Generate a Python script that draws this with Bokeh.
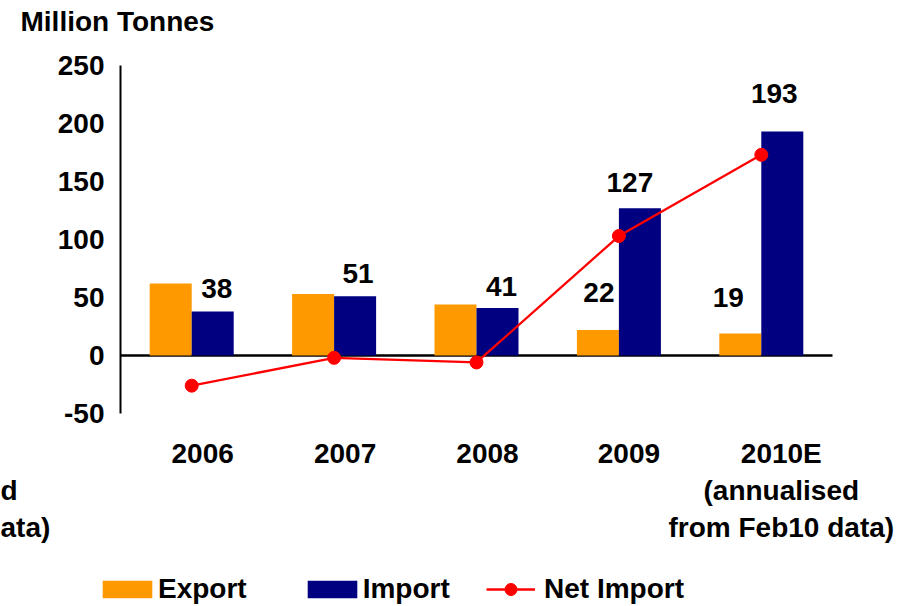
import numpy as np
from bokeh.plotting import figure
from bokeh.models import (Range1d, FixedTicker, Legend, LegendItem,
                          ColumnDataSource, Label, LinearAxis)
from bokeh.embed import file_html
from bokeh.resources import INLINE

# ---- data ----
years = ["2006", "2007", "2008", "2009", "2010E\n(annualised\nfrom Feb10 data)"]
export = [62, 53, 44, 22, 19]
imports = [38, 51, 41, 127, 193]
net_import = [-26, -2, -6, 103, 173]
import_labels = ["38", "51", "41", "127", "193"]
export_labels = ["", "", "", "22", "19"]
y_ticks = [-50, 0, 50, 100, 150, 200, 250]
y_tick_labels = ["-50", "0", "50", "100", "150", "200", "250"]
y_min, y_max = -50, 250

# ---- styles / layout ----
FONT = "Liberation Sans"
FS = "28px"
ORANGE = "#FF9900"
NAVY = "#000080"
RED = "#FF0000"
W, H = 917, 606
PX_X = 142.4          # px per category
PX_Y = 1.16           # px per unit
X0_PX, Y0_PX = 120, 355   # screen position of category start / zero
BAR_OFF = 0.1475
BAR_W = 0.295
imp_dx = [4, 3, 4, -10, -8]
imp_dy = [-23, -23, -21, -26, -38]
exp_dx = [0, 0, 0, 1, -12]
exp_dy = [0, 0, 0, -37, -36]
lab_shift = [11, 11, 11, 10, 20]   # px shift of category labels

n = len(years)
centers = np.arange(n) + 0.5

src = ColumnDataSource(dict(xc=centers, xe=centers - BAR_OFF, xi=centers + BAR_OFF,
                            export=export, imp=imports, net=net_import,
                            ilab=import_labels, elab=export_labels,
                            idx=imp_dx, idy=imp_dy, edx=exp_dx, edy=exp_dy))

x_range = Range1d(-X0_PX / PX_X, (W - X0_PX) / PX_X)
y_range = Range1d(-(H - Y0_PX) / PX_Y, Y0_PX / PX_Y)

p = figure(width=W, height=H, x_range=x_range, y_range=y_range,
           output_backend="svg", toolbar_location=None,
           x_axis_location=None, y_axis_location=None,
           min_border=0, min_border_left=0, min_border_right=0,
           min_border_top=0, min_border_bottom=0)
p.outline_line_color = None
p.grid.visible = False

r_exp = p.vbar(x="xe", top="export", bottom=0, width=BAR_W,
               fill_color=ORANGE, line_color=None, source=src)
r_imp = p.vbar(x="xi", top="imp", bottom=0, width=BAR_W,
               fill_color=NAVY, line_color=None, source=src)

txt = dict(text_align="center", text_baseline="alphabetic",
           text_font={"value": FONT}, text_font_size={"value": FS},
           text_font_style="bold", text_color="black", source=src)
p.text(x="xi", y="imp", text="ilab", x_offset="idx", y_offset="idy", **txt)
p.text(x="xe", y="export", text="elab", x_offset="edx", y_offset="edy", **txt)

r_line = p.line(x="xc", y="net", line_color=RED, line_width=2.3, source=src)
r_pts = p.scatter(x="xc", y="net", size=13, fill_color=RED, line_color=RED,
                  source=src)

# y axis
yax = LinearAxis(fixed_location=0, bounds=(y_min, y_max),
                 ticker=FixedTicker(ticks=y_ticks),
                 major_label_overrides={t: s for t, s in zip(y_ticks, y_tick_labels)})
yax.axis_line_width = 2
yax.axis_line_color = "black"
yax.major_tick_line_color = None
yax.minor_tick_line_color = None
yax.major_tick_out = 0
yax.major_tick_in = 0
yax.major_label_standoff = 16
yax.major_label_text_font = FONT
yax.major_label_text_font_size = FS
yax.major_label_text_font_style = "bold"
yax.major_label_text_color = "black"
p.add_layout(yax, "left")

# zero line (an axis with no labels)
zax = LinearAxis(fixed_location=0, bounds=(0, n), ticker=FixedTicker(ticks=[]))
zax.axis_line_width = 2.5
zax.axis_line_color = "black"
zax.major_tick_line_color = None
zax.minor_tick_line_color = None
zax.level = "underlay"
p.add_layout(zax, "below")

# category axis at the bottom of the value range
label_pos = [c + s / PX_X for c, s in zip(centers, lab_shift)]
xax = LinearAxis(fixed_location=y_min, ticker=FixedTicker(ticks=label_pos),
                 major_label_overrides={pos: lab for pos, lab in zip(label_pos, years)})
xax.axis_line_color = None
xax.major_tick_line_color = None
xax.minor_tick_line_color = None
xax.major_tick_out = 0
xax.major_tick_in = 0
xax.major_label_standoff = 24
xax.major_label_text_font = FONT
xax.major_label_text_font_size = FS
xax.major_label_text_font_style = "bold"
xax.major_label_text_color = "black"
p.add_layout(xax, "below")

# title
p.add_layout(Label(x=(20 - X0_PX) / PX_X, y=(Y0_PX - 21) / PX_Y, text="Million Tonnes",
                   text_align="left", text_baseline="alphabetic", text_font=FONT,
                   text_font_size=FS, text_font_style="bold", text_color="black"))

# visible remnant of a clipped copy of the 2010E label at the far left
p.add_layout(Label(x=-X0_PX / PX_X, y=(Y0_PX - 474) / PX_Y, text="d\nata)",
                   text_align="left", text_baseline="top", text_font=FONT,
                   text_font_size=FS, text_font_style="bold", text_color="black"))

common = dict(orientation="horizontal", padding=0, margin=0,
              border_line_color=None, background_fill_alpha=0,
              label_text_font=FONT, label_text_font_size=FS,
              label_text_font_style="bold", label_text_color="black")
legA = Legend(items=[LegendItem(label="Export", renderers=[r_exp]),
                     LegendItem(label="Import", renderers=[r_imp])],
              location=(96, 1), glyph_width=62, glyph_height=22,
              label_standoff=0, spacing=54, **common)
legB = Legend(items=[LegendItem(label="Net Import", renderers=[r_line, r_pts])],
              location=(486, 1), glyph_width=49, glyph_height=30,
              label_standoff=9, **common)
p.add_layout(legA, "center")
p.add_layout(legB, "center")

open("out.html", "w").write(file_html(p, INLINE))
